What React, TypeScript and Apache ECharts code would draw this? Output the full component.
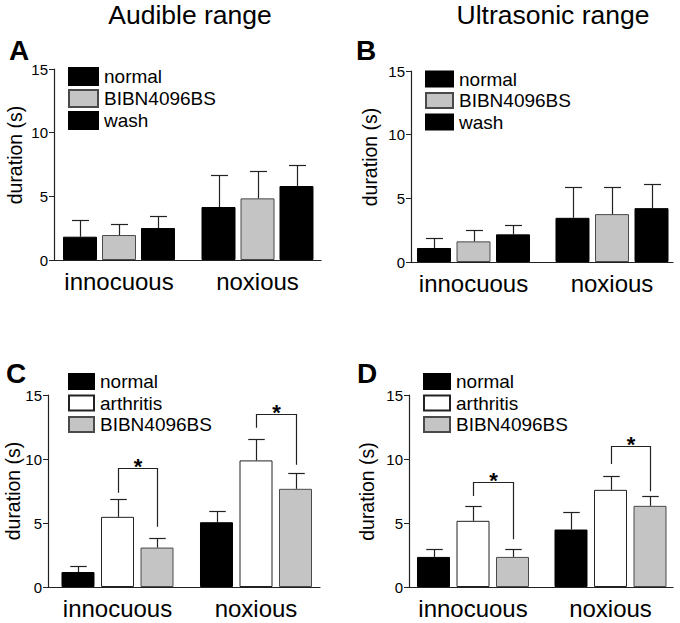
import React, { useEffect, useRef } from "react";
import * as echarts from "echarts";

// ---------- data ----------
const categories = ["innocuous", "noxious"];
const yMin = 0;
const yMax = 15;
const yInterval = 5;

// Panel A – Audible range
const aNormal = [1.83, 4.16];
const aNormalErr = [1.31, 2.52];
const aBibn = [1.96, 4.84];
const aBibnErr = [0.87, 2.18];
const aWash = [2.51, 5.81];
const aWashErr = [0.97, 1.68];

// Panel B – Ultrasonic range
const bNormal = [1.1, 3.47];
const bNormalErr = [0.75, 2.45];
const bBibn = [1.62, 3.76];
const bBibnErr = [0.88, 2.11];
const bWash = [2.17, 4.23];
const bWashErr = [0.75, 1.9];

// Panel C – Audible range (arthritis)
const cNormal = [1.17, 5.06];
const cNormalErr = [0.47, 0.89];
const cArth = [5.48, 9.89];
const cArthErr = [1.43, 1.69];
const cBibn = [3.08, 7.67];
const cBibnErr = [0.75, 1.2];

// Panel D – Ultrasonic range (arthritis)
const dNormal = [2.35, 4.49];
const dNormalErr = [0.6, 1.35];
const dArth = [5.17, 7.59];
const dArthErr = [1.17, 1.07];
const dBibn = [2.35, 6.34];
const dBibnErr = [0.62, 0.78];

// significance brackets (arthritis vs BIBN4096BS): top, left end, right end
const cBracketTop = [9.26, 13.51];
const cBracketLeft = [7.36, 12.44];
const cBracketRight = [4.7, 9.55];
const dBracketTop = [8.22, 11.01];
const dBracketLeft = [7.1, 9.6];
const dBracketRight = [3.73, 7.49];

const titles = ["Audible range", "Ultrasonic range"];
const panelLetters = ["A", "B", "C", "D"];
const yName = "duration (s)";

// ---------- styles ----------
const FONT = "'Liberation Sans', Arial, Helvetica, sans-serif";
const BLACK = { color: "#000000", borderColor: "#000000", borderWidth: 1 };
const GRAY = { color: "#c4c4c4", borderColor: "#4a4a4a", borderWidth: 1 };
const WHITE = { color: "#ffffff", borderColor: "#222222", borderWidth: 1 };
const LINE = "#222222";

type SeriesDef = { name: string; data: number[]; err: number[]; style: any };
type Panel = {
  grid: { left: number; right: number; top: number; bottom: number };
  groupPx: number[]; // pixel centres of the two bar groups
  barWidth: number;
  gap: number;
  series: SeriesDef[];
  legend: { left: number; top: number; w: number; h: number; gap: number };
  namePos: number[];
  brackets?: { top: number[]; left: number[]; right: number[] };
};

const W = 680;
const H = 623;

const panels: Panel[] = [
  {
    grid: { left: 54, right: 359, top: 69, bottom: 363 },
    groupPx: [119, 257.5],
    barWidth: 34,
    gap: 5,
    series: [
      { name: "normal", data: aNormal, err: aNormalErr, style: BLACK },
      { name: "BIBN4096BS", data: aBibn, err: aBibnErr, style: GRAY },
      { name: "wash", data: aWash, err: aWashErr, style: BLACK },
    ],
    legend: { left: 68, top: 66.5, w: 29, h: 17, gap: 2 },
    namePos: [15, 155],
  },
  {
    grid: { left: 411, right: 7, top: 71, bottom: 361 },
    groupPx: [473.5, 612],
    barWidth: 34,
    gap: 5.5,
    series: [
      { name: "normal", data: bNormal, err: bNormalErr, style: BLACK },
      { name: "BIBN4096BS", data: bBibn, err: bBibnErr, style: GRAY },
      { name: "wash", data: bWash, err: bWashErr, style: BLACK },
    ],
    legend: { left: 425, top: 69, w: 27, h: 15, gap: 1.5 },
    namePos: [370, 157],
  },
  {
    grid: { left: 48, right: 360, top: 395, bottom: 36 },
    groupPx: [117.5, 256],
    barWidth: 33,
    gap: 6.5,
    series: [
      { name: "normal", data: cNormal, err: cNormalErr, style: BLACK },
      { name: "arthritis", data: cArth, err: cArthErr, style: WHITE },
      { name: "BIBN4096BS", data: cBibn, err: cBibnErr, style: GRAY },
    ],
    legend: { left: 68, top: 371.5, w: 25, h: 15, gap: 1.5 },
    namePos: [13, 491],
    brackets: { top: cBracketTop, left: cBracketLeft, right: cBracketRight },
  },
  {
    grid: { left: 409, right: 7, top: 395, bottom: 36 },
    groupPx: [473, 610.5],
    barWidth: 33,
    gap: 6.5,
    series: [
      { name: "normal", data: dNormal, err: dNormalErr, style: BLACK },
      { name: "arthritis", data: dArth, err: dArthErr, style: WHITE },
      { name: "BIBN4096BS", data: dBibn, err: dBibnErr, style: GRAY },
    ],
    legend: { left: 423, top: 371.5, w: 26, h: 15, gap: 1.5 },
    namePos: [367, 491.5],
    brackets: { top: dBracketTop, left: dBracketLeft, right: dBracketRight },
  },
];

function buildOption() {
  const grid: any[] = [];
  const xAxis: any[] = [];
  const yAxis: any[] = [];
  const series: any[] = [];
  const legend: any[] = [];
  const graphic: any[] = [];

  panels.forEach((p, gi) => {
    grid.push({ ...p.grid, containLabel: false });
    // x extent so that category i sits at groupPx[i]
    const x0 = p.grid.left;
    const x1 = W - p.grid.right;
    const unit = p.groupPx[1] - p.groupPx[0];
    const xMinV = (x0 - p.groupPx[0]) / unit;
    const xMaxV = 1 + (x1 - p.groupPx[1]) / unit;

    xAxis.push({
      type: "value",
      gridIndex: gi,
      min: xMinV,
      max: xMaxV,
      axisLine: { show: true, onZero: false, lineStyle: { color: LINE, width: 1.2 } },
      axisTick: { show: false },
      axisLabel: { show: false },
      splitLine: { show: false },
    });
    yAxis.push({
      type: "value",
      gridIndex: gi,
      min: yMin,
      max: yMax,
      interval: yInterval,
      axisLine: { show: true, onZero: false, lineStyle: { color: LINE, width: 1.2 } },
      axisTick: { show: true, length: 5, lineStyle: { color: LINE, width: 1 } },
      axisLabel: { color: "#000", fontSize: 15, fontFamily: FONT, margin: 6 },
      splitLine: { show: false },
    });

    const step = p.barWidth + p.gap;
    const barGap = ((p.gap / p.barWidth) * 100).toFixed(1) + "%";
    p.series.forEach((s) => {
      series.push({
        type: "bar",
        name: s.name,
        xAxisIndex: gi,
        yAxisIndex: gi,
        data: s.data.map((v, ci) => [ci, v]),
        barWidth: p.barWidth,
        barGap,
        itemStyle: s.style,
        emphasis: { disabled: true },
        z: 2,
      });
    });

    // category labels under each bar group, placed via the x scale
    const catData = categories.map((_, ci) => [ci, 0]);
    series.push({
      type: "custom",
      xAxisIndex: gi,
      yAxisIndex: gi,
      data: catData,
      encode: { x: 0, y: 1 },
      clip: false,
      z: 5,
      silent: true,
      renderItem: (_params: any, api: any) => {
        const ci = api.value(0);
        const pt = api.coord([ci, 0]);
        return {
          type: "text",
          x: pt[0],
          y: pt[1] + 9,
          style: {
            text: categories[ci],
            font: `24px ${FONT}`,
            fill: "#000",
            align: "center",
            verticalAlign: "top",
          },
        };
      },
    });

    // error bars (upper only)
    const errData: number[][] = [];
    p.series.forEach((s, si) => {
      s.data.forEach((v, ci) => errData.push([ci, si, v, s.err[ci]]));
    });
    const cap = p.barWidth / 4;
    series.push({
      type: "custom",
      xAxisIndex: gi,
      yAxisIndex: gi,
      data: errData,
      encode: { x: 0, y: 2 },
      clip: false,
      z: 3,
      silent: true,
      renderItem: (_params: any, api: any) => {
        const ci = api.value(0);
        const si = api.value(1);
        const m = api.value(2);
        const e = api.value(3);
        const base = api.coord([ci, m]);
        const top = api.coord([ci, m + e]);
        const x = Math.round(base[0] + (si - 1) * step) + 0.5;
        const yt = Math.round(top[1]) + 0.5;
        return {
          type: "group",
          children: [
            { type: "line", shape: { x1: x, y1: base[1], x2: x, y2: yt }, style: { stroke: LINE, lineWidth: 1.2 } },
            { type: "line", shape: { x1: x - cap, y1: yt, x2: x + cap, y2: yt }, style: { stroke: LINE, lineWidth: 1.2 } },
          ],
        };
      },
    });

    if (p.brackets) {
      const b = p.brackets;
      const bData = categories.map((_, ci) => [ci, b.top[ci], b.left[ci], b.right[ci]]);
      series.push({
        type: "custom",
        xAxisIndex: gi,
        yAxisIndex: gi,
        data: bData,
        encode: { x: 0, y: 1 },
        clip: false,
        z: 4,
        silent: true,
        renderItem: (_params: any, api: any) => {
          const ci = api.value(0);
          const t = api.coord([ci, api.value(1)]);
          const l = api.coord([ci, api.value(2)]);
          const r = api.coord([ci, api.value(3)]);
          const xl = Math.round(t[0]) + 0.5;
          const xr = Math.round(t[0] + step) + 0.5;
          const yt = Math.round(t[1]) + 0.5;
          return {
            type: "group",
            children: [
              {
                type: "polyline",
                shape: { points: [[xl, l[1]], [xl, yt], [xr, yt], [xr, r[1]]] },
                style: { stroke: LINE, lineWidth: 1.2, fill: "none" },
              },
              {
                type: "text",
                x: (xl + xr) / 2,
                y: yt - 2,
                style: {
                  text: "*",
                  font: `bold 22px ${FONT}`,
                  fill: "#000",
                  align: "center",
                  verticalAlign: "middle",
                },
              },
            ],
          };
        },
      });
    }

    legend.push({
      orient: "vertical",
      left: p.legend.left,
      top: p.legend.top,
      padding: 0,
      itemWidth: p.legend.w,
      itemHeight: p.legend.h,
      itemGap: p.legend.gap,
      icon: "rect",
      selectedMode: false,
      data: p.series.map((s) => s.name),
      textStyle: { color: "#000", fontSize: 19, fontFamily: FONT, lineHeight: 20, padding: [0, 0, 0, 1] },
    });

    graphic.push({
      type: "text",
      x: p.namePos[0],
      y: p.namePos[1],
      rotation: Math.PI / 2,
      style: { text: yName, font: `19.5px ${FONT}`, fill: "#000", align: "center", verticalAlign: "middle" },
    });
  });

  graphic.push(
    { type: "text", x: 190, y: 1, style: { text: titles[0], font: `26.5px ${FONT}`, fill: "#000", align: "center", verticalAlign: "top" } },
    { type: "text", x: 553, y: 1, style: { text: titles[1], font: `26.5px ${FONT}`, fill: "#000", align: "center", verticalAlign: "top" } },
    { type: "text", x: 9, y: 36, style: { text: panelLetters[0], font: `bold 28px ${FONT}`, fill: "#000", verticalAlign: "top" } },
    { type: "text", x: 356, y: 36, style: { text: panelLetters[1], font: `bold 28px ${FONT}`, fill: "#000", verticalAlign: "top" } },
    { type: "text", x: 6, y: 359, style: { text: panelLetters[2], font: `bold 28px ${FONT}`, fill: "#000", verticalAlign: "top" } },
    { type: "text", x: 357, y: 359, style: { text: panelLetters[3], font: `bold 28px ${FONT}`, fill: "#000", verticalAlign: "top" } }
  );

  return {
    animation: false,
    backgroundColor: "#ffffff",
    textStyle: { fontFamily: FONT },
    grid,
    xAxis,
    yAxis,
    legend,
    series,
    graphic,
  };
}

export default function App() {
  const ref = useRef<HTMLDivElement>(null);
  useEffect(() => {
    document.body.style.margin = "0";
    if (!ref.current) return;
    const chart = echarts.init(ref.current, undefined, { renderer: "svg" });
    chart.setOption(buildOption() as any);
    return () => {
      chart.dispose();
    };
  }, []);
  return <div ref={ref} style={{ width: W, height: H, background: "#fff" }} />;
}
